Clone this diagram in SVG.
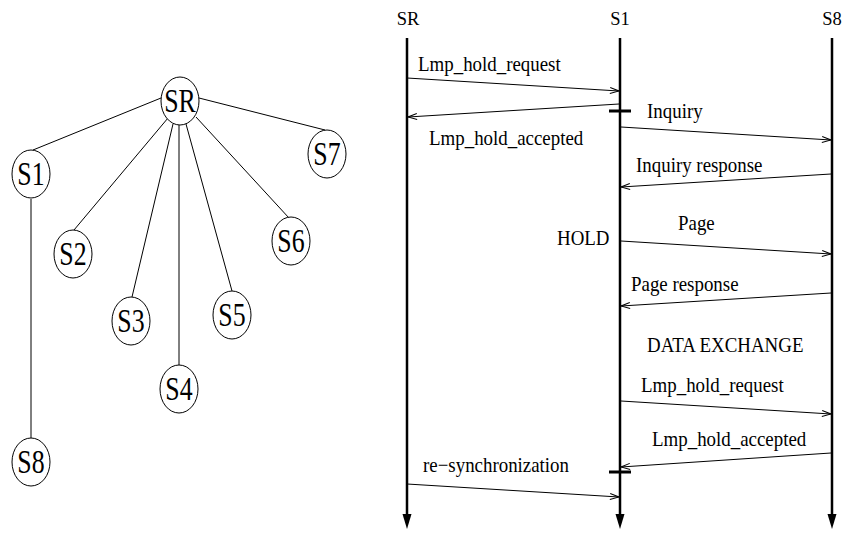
<svg xmlns="http://www.w3.org/2000/svg" width="843" height="533" viewBox="0 0 843 533">
<style>
.node ellipse{fill:#fff;stroke:#000;stroke-width:1}
.edge{stroke:#000;stroke-width:1;fill:none}
.tl{font-family:"Liberation Serif","Times New Roman",serif;font-size:34px;fill:#000;text-anchor:middle}
.life{stroke:#000;stroke-width:2.5;fill:none}
.msg{stroke:#000;stroke-width:1;fill:none;marker-end:url(#oa)}
.lbl{font-family:"Liberation Serif","Times New Roman",serif;font-size:21px;fill:#000}
.hd{font-family:"Liberation Serif","Times New Roman",serif;font-size:18.5px;fill:#000;text-anchor:middle}
.tick{stroke:#000;stroke-width:3}
</style>
<defs>
<marker id="oa" markerUnits="userSpaceOnUse" markerWidth="12" markerHeight="10" viewBox="-10 -5 12 10" refX="0" refY="0" orient="auto">
<path d="M-9,-3 L0,0 L-9,3" fill="none" stroke="#000" stroke-width="1"/>
</marker>
</defs>
<g id="tree-edges">
<line class="edge" x1="161" y1="98" x2="33" y2="150"/>
<line class="edge" x1="199" y1="98" x2="325" y2="130"/>
<line class="edge" x1="168" y1="118" x2="74" y2="230"/>
<line class="edge" x1="173" y1="124" x2="132" y2="297"/>
<line class="edge" x1="179" y1="125" x2="179" y2="365"/>
<line class="edge" x1="186" y1="124" x2="232" y2="291"/>
<line class="edge" x1="196" y1="117" x2="289" y2="218"/>
<line class="edge" x1="31" y1="199" x2="31" y2="438"/>
</g>
<g id="n-SR" class="node"><ellipse cx="180" cy="101" rx="19" ry="24"/><text class="tl" transform="translate(180,112) scale(0.76,1)">SR</text></g>
<g id="n-S1" class="node"><ellipse cx="31" cy="174" rx="19" ry="24"/><text class="tl" transform="translate(31,185) scale(0.76,1)">S1</text></g>
<g id="n-S7" class="node"><ellipse cx="327" cy="154" rx="19" ry="24"/><text class="tl" transform="translate(327,165) scale(0.76,1)">S7</text></g>
<g id="n-S6" class="node"><ellipse cx="291" cy="241" rx="19" ry="24"/><text class="tl" transform="translate(291,252) scale(0.76,1)">S6</text></g>
<g id="n-S2" class="node"><ellipse cx="73" cy="254" rx="19" ry="24"/><text class="tl" transform="translate(73,265) scale(0.76,1)">S2</text></g>
<g id="n-S3" class="node"><ellipse cx="131" cy="321" rx="19" ry="24"/><text class="tl" transform="translate(131,332) scale(0.76,1)">S3</text></g>
<g id="n-S5" class="node"><ellipse cx="232" cy="315" rx="19" ry="24"/><text class="tl" transform="translate(232,326) scale(0.76,1)">S5</text></g>
<g id="n-S4" class="node"><ellipse cx="179" cy="389" rx="19" ry="24"/><text class="tl" transform="translate(179,400) scale(0.76,1)">S4</text></g>
<g id="n-S8" class="node"><ellipse cx="31" cy="462" rx="19" ry="24"/><text class="tl" transform="translate(31,473) scale(0.76,1)">S8</text></g>

<g id="lifeline-SR">
<text class="hd" x="408" y="25">SR</text>
<line class="life" x1="407" y1="38" x2="407" y2="516"/>
<path d="M402.5,514 L411.5,514 L407,529 Z" fill="#000"/>
</g>
<g id="lifeline-S1">
<text class="hd" x="620" y="25">S1</text>
<line class="life" x1="620" y1="38" x2="620" y2="516"/>
<path d="M615.5,514 L624.5,514 L620,529 Z" fill="#000"/>
<line class="tick" x1="609" y1="111" x2="631" y2="111"/>
<line class="tick" x1="609" y1="472" x2="631" y2="472"/>
</g>
<g id="lifeline-S8">
<text class="hd" x="832" y="25">S8</text>
<line class="life" x1="832" y1="38" x2="832" y2="516"/>
<path d="M827.5,514 L836.5,514 L832,529 Z" fill="#000"/>
</g>

<g id="messages">
<line class="msg" x1="407" y1="78" x2="619" y2="91"/>
<line class="msg" x1="619" y1="104" x2="408" y2="117"/>
<line class="msg" x1="621" y1="127" x2="831" y2="140"/>
<line class="msg" x1="831" y1="174" x2="621" y2="187"/>
<line class="msg" x1="621" y1="241" x2="831" y2="254"/>
<line class="msg" x1="831" y1="293" x2="621" y2="306"/>
<line class="msg" x1="621" y1="401" x2="831" y2="414"/>
<line class="msg" x1="831" y1="453" x2="621" y2="467"/>
<line class="msg" x1="407" y1="484" x2="619" y2="497"/>
</g>
<g id="labels">
<text class="lbl" transform="translate(418,71) scale(0.9,1)">Lmp_hold_request</text>
<text class="lbl" transform="translate(429,145) scale(0.9,1)">Lmp_hold_accepted</text>
<text class="lbl" transform="translate(647,118) scale(0.9,1)">Inquiry</text>
<text class="lbl" transform="translate(636,172) scale(0.9,1)">Inquiry response</text>
<text class="lbl" transform="translate(557,245) scale(0.9,1)">HOLD</text>
<text class="lbl" transform="translate(678,230) scale(0.9,1)">Page</text>
<text class="lbl" transform="translate(631,291) scale(0.9,1)">Page response</text>
<text class="lbl" transform="translate(647,352) scale(0.9,1)">DATA EXCHANGE</text>
<text class="lbl" transform="translate(641,392) scale(0.9,1)">Lmp_hold_request</text>
<text class="lbl" transform="translate(652,446) scale(0.9,1)">Lmp_hold_accepted</text>
<text class="lbl" transform="translate(423,472) scale(0.9,1)">re−synchronization</text>
</g>
</svg>
